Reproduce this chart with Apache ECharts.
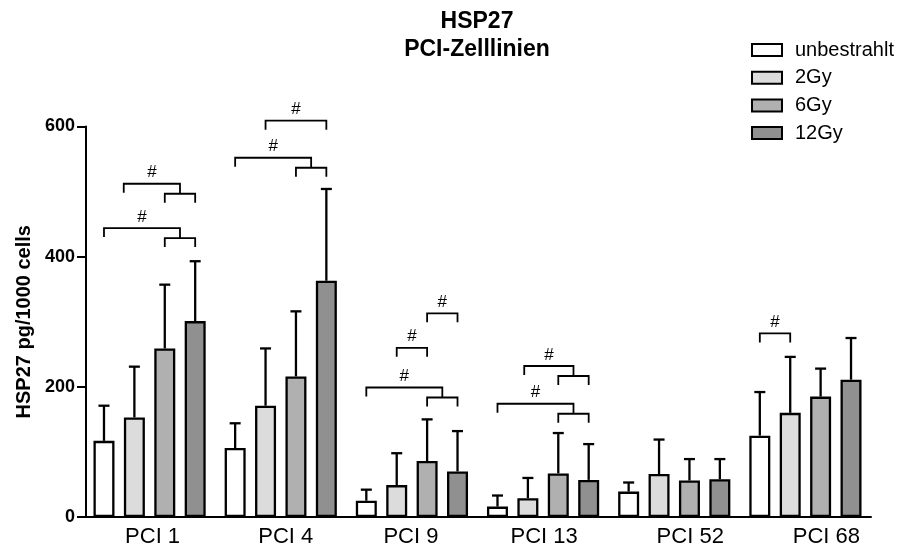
<!DOCTYPE html>
<html><head><meta charset="utf-8">
<script src="https://cdn.jsdelivr.net/npm/echarts@6/dist/echarts.min.js"></script>
<style>html,body{margin:0;padding:0;background:#fff}#c{width:899px;height:549px}</style>
</head><body><div id="c"></div>
<script>
// ---------- data ----------
const categories = ['PCI 1', 'PCI 4', 'PCI 9', 'PCI 13', 'PCI 52', 'PCI 68'];
const seriesNames = ['unbestrahlt', '2Gy', '6Gy', '12Gy'];
const meanUnbestrahlt = [117, 106, 25, 16, 39, 125];
const mean2Gy = [153, 171, 49, 29, 66, 160];
const mean6Gy = [259, 216, 86, 67, 56, 185];
const mean12Gy = [301, 363, 70, 57, 58, 211];
const upperUnbestrahlt = [171, 144, 42, 33, 53, 192];
const upper2Gy = [231, 259, 98, 60, 119, 246];
const upper6Gy = [357, 316, 150, 129, 89, 228];
const upper12Gy = [393, 504, 132, 112, 89, 275];
const yTicks = [0, 200, 400, 600];
// significance brackets: category, left bar, right bar (or sub-bracket start), sub-bracket end (-1 = none), level
const sigCategory = [0, 0, 1, 1, 2, 2, 2, 3, 3, 5];
const sigFrom = [0.65, 0, 1, 0, 2, 1, 0, 0.88, 0, 0];
const sigToA = [2, 2, 3, 2, 3, 2, 2, 2, 2, 1];
const sigToB = [3, 3, -1, 3, -1, -1, 3, 3, 3, -1];
const sigLevel = [512, 444, 609, 552, 313, 260, 199, 232, 174, 282];
const sigLabel = '#';

// ---------- layout / style ----------
const FONT = 'Liberation Sans, Arial, Helvetica, sans-serif';
const colors = ['#ffffff', '#dcdcdc', '#b0b0b0', '#909090'];
const PITCH = 30.4;
const BAR_W = 21, BAR_GAP = PITCH / BAR_W - 1;
const DROP = 9, SUB = 10;
const labelShift = [3, 5, -1, 1, 16, 21];

const means = [meanUnbestrahlt, mean2Gy, mean6Gy, mean12Gy];
const uppers = [upperUnbestrahlt, upper2Gy, upper6Gy, upper12Gy];

function barX(api, cat, idx) {
  return api.coord([cat, 0])[0] + (idx - 1.5) * PITCH;
}

const errData = [];
for (let s = 0; s < 4; s++) for (let i = 0; i < categories.length; i++) errData.push([i, s, means[s][i], uppers[s][i]]);
const sigData = sigCategory.map((c, k) => [c, sigFrom[k], sigToA[k], sigToB[k], sigLevel[k]]);

const rich = {};
labelShift.forEach((o, i) => {
  rich['l' + i] = { fontSize: 22, color: '#000', fontFamily: FONT,
    padding: o >= 0 ? [0, 0, 0, 2 * o] : [0, -2 * o, 0, 0] };
});

const barSeries = seriesNames.map((n, s) => ({
  type: 'bar', name: n, data: means[s], barWidth: BAR_W, barGap: (BAR_GAP * 100).toFixed(2) + '%',
  itemStyle: { color: colors[s], borderColor: '#000', borderWidth: 2.3 },
  emphasis: { disabled: true }, z: 2
}));

const option = {
  animation: false,
  backgroundColor: '#fff',
  title: {
    text: 'HSP27\nPCI-Zelllinien', left: 477, top: 8, textAlign: 'center', padding: 0,
    textStyle: { fontSize: 23, fontWeight: 'bold', lineHeight: 28, color: '#000', fontFamily: FONT }
  },
  legend: {
    orient: 'vertical', left: 751, top: 40, itemWidth: 30, itemHeight: 12, itemGap: 7.7,
    icon: 'rect', selectedMode: false, data: seriesNames, padding: 0,
    textStyle: { fontSize: 20, lineHeight: 20, color: '#000', fontFamily: FONT, padding: [0, 0, 0, 8] }
  },
  grid: { left: 84, top: 126.5, width: 787, height: 390.5, outerBoundsMode: 'none' },
  xAxis: {
    type: 'category', data: categories,
    axisLine: { lineStyle: { color: '#000', width: 2 } },
    axisTick: { show: false },
    axisLabel: { margin: 9, formatter: (v, i) => '{l' + i + '|' + v + '}', rich: rich }
  },
  yAxis: {
    type: 'value', min: yTicks[0], max: yTicks[yTicks.length - 1], interval: 200, offset: -2,
    axisLine: { show: true, lineStyle: { color: '#000', width: 2 } },
    axisTick: { show: true, length: 9, lineStyle: { color: '#000', width: 2 } },
    axisLabel: { color: '#000', fontSize: 18, fontWeight: 'bold', fontFamily: FONT, margin: 11 },
    splitLine: { show: false },
    name: 'HSP27 pg/1000 cells', nameLocation: 'middle', nameGap: 52,
    nameTextStyle: { color: '#000', fontSize: 20, fontWeight: 'bold', fontFamily: FONT }
  },
  series: barSeries.concat([
    {
      type: 'custom', name: 'err', data: errData, z: 3, silent: true,
      encode: { x: 0, y: 3 },
      renderItem: (params, api) => {
        const cat = api.value(0), s = api.value(1);
        const x = barX(api, cat, s);
        const y0 = api.coord([cat, api.value(2)])[1];
        const y1 = api.coord([cat, api.value(3)])[1];
        const st = { stroke: '#000', lineWidth: 2.3 };
        return { type: 'group', children: [
          { type: 'line', shape: { x1: x, y1: y0, x2: x, y2: y1 }, style: st },
          { type: 'line', shape: { x1: x - 5.5, y1: y1, x2: x + 5.5, y2: y1 }, style: st }
        ] };
      }
    },
    {
      type: 'custom', name: 'sig', data: sigData, z: 4, silent: true, clip: false,
      encode: { x: 0, y: 4 },
      renderItem: (params, api) => {
        const cat = api.value(0), from = api.value(1), toA = api.value(2), toB = api.value(3);
        const yT = api.coord([cat, api.value(4)])[1];
        const xL = barX(api, cat, from);
        const st = { stroke: '#000', lineWidth: 1.8, fill: null };
        const children = [];
        let xR;
        if (toB < 0) {
          xR = barX(api, cat, toA);
          children.push({ type: 'polyline', shape: { points: [[xL, yT + DROP], [xL, yT], [xR, yT], [xR, yT + DROP]] }, style: st });
        } else {
          const xa = barX(api, cat, toA), xb = barX(api, cat, toB);
          xR = (xa + xb) / 2;
          const ys = yT + SUB;
          children.push({ type: 'polyline', shape: { points: [[xL, yT + DROP], [xL, yT], [xR, yT], [xR, ys]] }, style: st });
          children.push({ type: 'polyline', shape: { points: [[xa, ys + DROP], [xa, ys], [xb, ys], [xb, ys + DROP]] }, style: st });
        }
        children.push({ type: 'text', style: { text: sigLabel, x: (xL + xR) / 2, y: yT - 11,
          align: 'center', verticalAlign: 'middle', fontSize: 17, fontFamily: FONT, fill: '#000' } });
        return { type: 'group', children: children };
      }
    }
  ])
};

const chart = echarts.init(document.getElementById('c'), null, { renderer: 'canvas' });
chart.setOption(option);
</script>
</body></html>
